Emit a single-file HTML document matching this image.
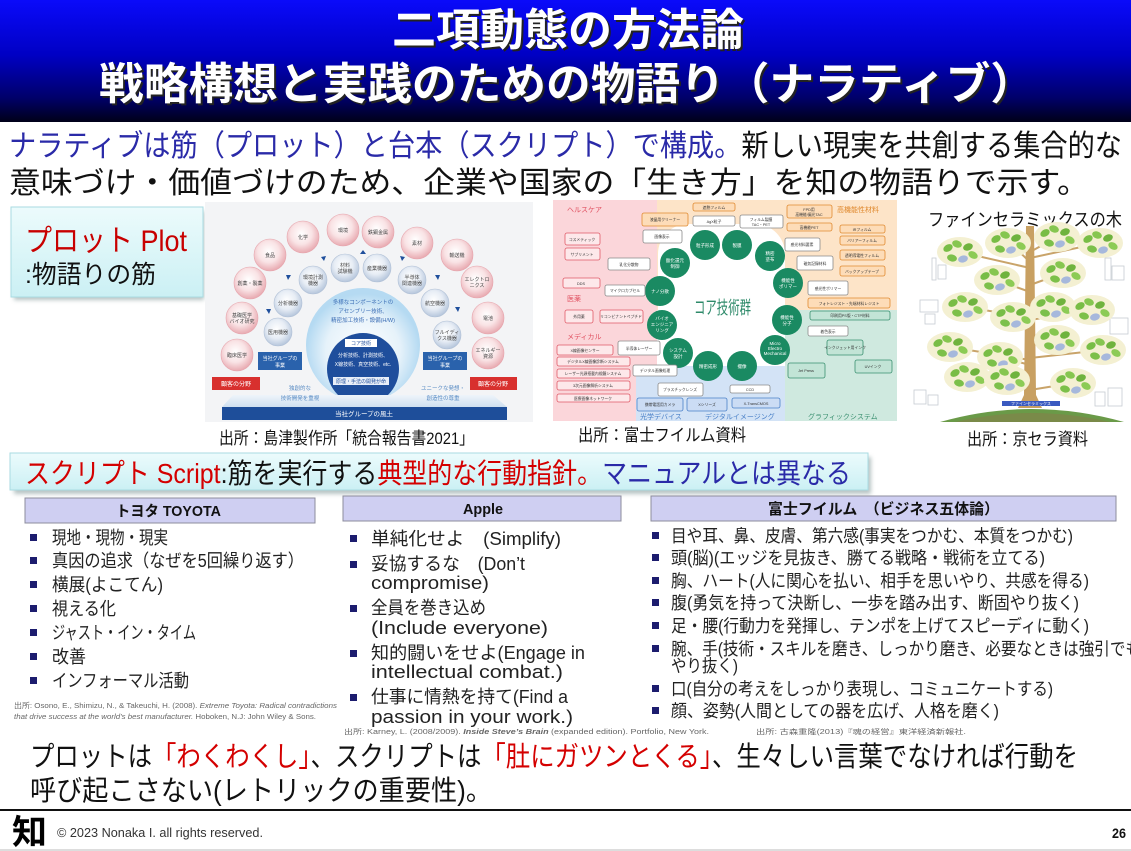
<!DOCTYPE html>
<html><head><meta charset="utf-8">
<style>
html,body{margin:0;padding:0;background:#fff;}
svg{display:block;}
text{font-family:"Liberation Sans","Noto Sans CJK JP",sans-serif;}
</style></head><body>
<svg width="1131" height="851" viewBox="0 0 1131 851" xmlns="http://www.w3.org/2000/svg">
<defs>
<linearGradient id="hdr" x1="0" y1="0" x2="0" y2="1">
<stop offset="0" stop-color="#0a0afa"/><stop offset="0.45" stop-color="#0000c4"/><stop offset="0.8" stop-color="#00006a"/><stop offset="1" stop-color="#000018"/>
</linearGradient>
<linearGradient id="cy" x1="0" y1="0" x2="0" y2="1"><stop offset="0" stop-color="#ecfbfc"/><stop offset="1" stop-color="#cbf0f4"/></linearGradient>
<filter id="sh" x="-10%" y="-30%" width="120%" height="160%"><feGaussianBlur stdDeviation="2"/></filter>
<radialGradient id="pk" cx="0.45" cy="0.4" r="0.6"><stop offset="0" stop-color="#ffffff"/><stop offset="0.55" stop-color="#f9e3e5"/><stop offset="1" stop-color="#e8aab1"/></radialGradient>
<radialGradient id="bl" cx="0.45" cy="0.4" r="0.6"><stop offset="0" stop-color="#ffffff"/><stop offset="0.55" stop-color="#e7edf5"/><stop offset="1" stop-color="#b6c6dc"/></radialGradient>
<radialGradient id="big" cx="0.5" cy="0.55" r="0.5"><stop offset="0" stop-color="#ffffff"/><stop offset="0.65" stop-color="#e6f2fa"/><stop offset="1" stop-color="#b5daf2"/></radialGradient>
<linearGradient id="plat" x1="0" y1="0" x2="0" y2="1"><stop offset="0" stop-color="#eef4fa"/><stop offset="1" stop-color="#cfe0f0"/></linearGradient>
<g id="lf">
<ellipse cx="0" cy="0" rx="23" ry="15" fill="#f4f0d2"/>
<ellipse cx="-12" cy="-4" rx="5" ry="3.5" fill="#78bd46" transform="rotate(-30 -12 -4)"/>
<ellipse cx="-3" cy="-8" rx="5" ry="3.5" fill="#86c650" transform="rotate(20 -3 -8)"/>
<ellipse cx="8" cy="-5" rx="5" ry="3.5" fill="#6fb33e" transform="rotate(-20 8 -5)"/>
<ellipse cx="13" cy="3" rx="5" ry="3.5" fill="#8ccb55" transform="rotate(30 13 3)"/>
<ellipse cx="-8" cy="6" rx="5" ry="3.5" fill="#7cc04a" transform="rotate(15 -8 6)"/>
<ellipse cx="3" cy="7" rx="5" ry="3.5" fill="#a6b8dc" transform="rotate(-15 3 7)"/>
</g>
</defs>

<!-- HEADER -->
<rect x="0" y="0" width="1131" height="122" fill="url(#hdr)"/>
<g font-weight="bold" font-size="44">
<text x="394" y="47" fill="#222" textLength="352" lengthAdjust="spacingAndGlyphs">二項動態の方法論</text>
<text x="392" y="45" fill="#fff" textLength="352" lengthAdjust="spacingAndGlyphs">二項動態の方法論</text>
<text x="101" y="101" fill="#222" textLength="936" lengthAdjust="spacingAndGlyphs">戦略構想と実践のための物語り（ナラティブ）</text>
<text x="99" y="99" fill="#fff" textLength="936" lengthAdjust="spacingAndGlyphs">戦略構想と実践のための物語り（ナラティブ）</text>
</g>

<!-- INTRO -->
<text x="9" y="156" font-size="30" textLength="1113" lengthAdjust="spacingAndGlyphs"><tspan fill="#2a2aa8">ナラティブは筋（プロット）と台本（スクリプト）で構成。</tspan><tspan fill="#111">新しい現実を共創する集合的な</tspan></text>
<text x="9" y="193" font-size="30" fill="#111" textLength="1080" lengthAdjust="spacingAndGlyphs">意味づけ・価値づけのため、企業や国家の「生き方」を知の物語りで示す。</text>

<!-- PLOT BOX -->
<rect x="14" y="211" width="190" height="89" fill="#9aa" opacity="0.7" filter="url(#sh)"/>
<rect x="11" y="207" width="192" height="90" fill="url(#cy)" stroke="#a9dbe2" stroke-width="1"/>
<text x="25" y="251" font-size="30" fill="#c80000" textLength="162" lengthAdjust="spacingAndGlyphs">プロット Plot</text>
<text x="25" y="283" font-size="25" fill="#111" textLength="131" lengthAdjust="spacingAndGlyphs">:物語りの筋</text>

<!-- SHIMADZU IMAGE -->
<rect x="205" y="202" width="328" height="220" fill="#f3f4f6"/>
<circle cx="363" cy="345" r="57" fill="url(#big)"/>
<g fill="url(#pk)" stroke="#e6a4ac" stroke-width="0.6">
<circle cx="237" cy="355" r="16"/><circle cx="242" cy="318" r="16"/><circle cx="250" cy="283" r="16"/><circle cx="270" cy="255" r="16"/><circle cx="303" cy="237" r="16"/><circle cx="343" cy="230" r="16"/><circle cx="378" cy="232" r="16"/><circle cx="417" cy="243" r="16"/><circle cx="457" cy="255" r="16"/><circle cx="477" cy="282" r="16"/><circle cx="488" cy="318" r="16"/><circle cx="488" cy="353" r="16"/>
</g>
<g fill="url(#bl)" stroke="#b0c0d6" stroke-width="0.6">
<circle cx="278" cy="332" r="14"/><circle cx="288" cy="303" r="14"/><circle cx="313" cy="280" r="14"/><circle cx="345" cy="268" r="14"/><circle cx="377" cy="268" r="14"/><circle cx="412" cy="280" r="14"/><circle cx="435" cy="303" r="14"/><circle cx="447" cy="335" r="14"/>
</g>
<g font-size="5" fill="#444" text-anchor="middle">
<text x="237" y="357">臨床医学</text><text x="242" y="317">基礎医学</text><text x="242" y="323">バイオ研究</text><text x="250" y="285">創薬・製薬</text><text x="270" y="257">食品</text><text x="303" y="239">化学</text><text x="343" y="232">環境</text><text x="378" y="234">鉄鋼金属</text><text x="417" y="245">素材</text><text x="457" y="257">輸送機</text><text x="477" y="281">エレクトロ</text><text x="477" y="287">ニクス</text><text x="488" y="320">電池</text><text x="488" y="352">エネルギー</text><text x="488" y="358">資源</text>
<text x="278" y="334">医用機器</text><text x="288" y="305">分析機器</text><text x="313" y="279">環境計測</text><text x="313" y="285">機器</text><text x="345" y="267">材料</text><text x="345" y="273">試験機</text><text x="377" y="270">産業機器</text><text x="412" y="279">半導体</text><text x="412" y="285">関連機器</text><text x="435" y="305">航空機器</text><text x="447" y="334">フルイディ</text><text x="447" y="340">クス機器</text>
</g>
<g fill="#1f4f9c">
<path d="M266 309 l5 0 l-2 5z"/><path d="M286 275 l5 0 l-3 5z"/><path d="M321 257 l5 -1 l-2 5z"/><path d="M360 254 l6 0 l-3 -4z"/><path d="M400 256 l5 1 l-3 4z"/><path d="M435 275 l5 0 l-2 5z"/><path d="M455 307 l5 0 l-2 5z"/>
</g>
<g font-size="5.5" fill="#3a6cb4" text-anchor="middle">
<text x="363" y="304">多様なコンポーネントの</text><text x="363" y="313">アセンブリー技術、</text><text x="363" y="322">精密加工技術・設備(H/W)</text>
</g>
<circle cx="363" cy="369" r="36" fill="#1f4e9c"/>
<rect x="345" y="339" width="32" height="8" fill="#fff"/>
<text x="361" y="345" font-size="5" fill="#1f4e9c" text-anchor="middle">コア技術</text>
<g font-size="5" fill="#fff" text-anchor="middle"><text x="363" y="357">分析技術、計測技術、</text><text x="363" y="366">X線技術、真空技術、etc.</text></g>
<rect x="333" y="377" width="56" height="8" fill="#e8eef8"/>
<text x="361" y="383" font-size="5" fill="#1f4e9c" text-anchor="middle">原理・手法の開発が命</text>
<rect x="258" y="352" width="44" height="18" fill="#2a62ac"/><rect x="423" y="352" width="44" height="18" fill="#2a62ac"/>
<g font-size="5" fill="#fff" text-anchor="middle"><text x="280" y="360">当社グループの</text><text x="280" y="367">事業</text><text x="445" y="360">当社グループの</text><text x="445" y="367">事業</text></g>
<rect x="212" y="377" width="48" height="13" fill="#d8302e"/><rect x="470" y="377" width="47" height="13" fill="#d8302e"/>
<g font-size="6" fill="#fff" text-anchor="middle"><text x="236" y="386">顧客の分野</text><text x="493" y="386">顧客の分野</text></g>
<path d="M233 395 L493 395 L507 407 L222 407 Z" fill="url(#plat)"/>
<g font-size="5.5" fill="#5a8cc4" text-anchor="middle"><text x="300" y="390">独創的な</text><text x="300" y="400">技術開発を重視</text><text x="443" y="390">ユニークな発想・</text><text x="443" y="400">創造性の尊重</text></g>
<rect x="222" y="407" width="285" height="13" fill="#1e4e9a"/>
<text x="364" y="416" font-size="6.5" fill="#fff" text-anchor="middle">当社グループの風土</text>
<text x="219" y="444" font-size="17" fill="#111" textLength="255" lengthAdjust="spacingAndGlyphs">出所：島津製作所「統合報告書2021」</text>

<!-- FUJIFILM IMAGE -->
<rect x="553" y="200" width="104" height="221" fill="#fbd6da"/>
<rect x="657" y="200" width="240" height="110" fill="#fde4c8"/>
<rect x="785" y="310" width="112" height="111" fill="#cfe9df"/>
<rect x="636" y="366" width="149" height="55" fill="#d3e3f6"/>
<rect x="658" y="224" width="127" height="142" rx="30" fill="#fff"/>
<g fill="#1a8a62">
<circle cx="705" cy="245" r="15"/><circle cx="737" cy="245" r="15"/><circle cx="770" cy="256" r="15"/><circle cx="788" cy="283" r="15"/><circle cx="787" cy="320" r="15"/><circle cx="775" cy="350" r="15"/><circle cx="742" cy="366" r="15"/><circle cx="708" cy="366" r="15"/><circle cx="678" cy="353" r="15"/><circle cx="662" cy="325" r="15"/><circle cx="660" cy="291" r="15"/><circle cx="675" cy="263" r="15"/>
</g>
<g font-size="4.5" fill="#fff" text-anchor="middle">
<text x="705" y="247">粒子形成</text><text x="737" y="247">製膜</text><text x="770" y="255">精密</text><text x="770" y="261">塗布</text><text x="788" y="282">機能性</text><text x="788" y="288">ポリマー</text><text x="787" y="319">機能性</text><text x="787" y="325">分子</text><text x="775" y="345">Micro</text><text x="775" y="350">Electro</text><text x="775" y="355">Mechanical</text><text x="742" y="368">撮像</text><text x="708" y="368">精密成形</text><text x="678" y="352">システム</text><text x="678" y="358">設計</text><text x="662" y="320">バイオ</text><text x="662" y="326">エンジニア</text><text x="662" y="332">リング</text><text x="660" y="293">ナノ分散</text><text x="675" y="262">酸化還元</text><text x="675" y="268">制御</text>
</g>
<text x="694" y="314" font-size="18" fill="#2e8a6a" textLength="57" lengthAdjust="spacingAndGlyphs">コア技術群</text>
<g stroke="#e05a68" stroke-width="0.8" fill="#fde8ea">
<rect x="565" y="233" width="35" height="12" rx="2"/><rect x="565" y="248" width="35" height="12" rx="2"/><rect x="563" y="278" width="37" height="10" rx="2"/><rect x="565" y="310" width="28" height="13" rx="2"/><rect x="600" y="310" width="43" height="13" rx="2"/><rect x="557" y="345" width="56" height="10" rx="2"/><rect x="557" y="357" width="73" height="9" rx="2"/><rect x="557" y="369" width="73" height="9" rx="2"/><rect x="557" y="381" width="73" height="9" rx="2"/><rect x="557" y="394" width="73" height="8" rx="2"/>
</g>
<g stroke="#8a8a8a" stroke-width="0.8" fill="#fff">
<rect x="608" y="258" width="42" height="12" rx="2"/><rect x="605" y="285" width="40" height="11" rx="2"/><rect x="618" y="341" width="42" height="14" rx="2"/><rect x="633" y="365" width="44" height="11" rx="2"/><rect x="643" y="230" width="39" height="13" rx="2"/><rect x="693" y="216" width="42" height="10" rx="2"/><rect x="740" y="215" width="43" height="13" rx="2"/><rect x="785" y="238" width="35" height="13" rx="2"/><rect x="797" y="256" width="36" height="14" rx="2"/><rect x="808" y="281" width="40" height="14" rx="2"/><rect x="808" y="326" width="40" height="10" rx="2"/><rect x="658" y="383" width="45" height="13" rx="2"/><rect x="730" y="385" width="40" height="8" rx="2"/>
</g>
<g stroke="#e08a30" stroke-width="0.8" fill="#fddcb8">
<rect x="642" y="213" width="46" height="13" rx="2"/><rect x="693" y="203" width="42" height="8" rx="2"/><rect x="787" y="205" width="45" height="13" rx="2"/><rect x="787" y="223" width="45" height="8" rx="2"/><rect x="840" y="225" width="45" height="8" rx="2"/><rect x="840" y="236" width="45" height="9" rx="2"/><rect x="840" y="250" width="45" height="10" rx="2"/><rect x="840" y="266" width="45" height="10" rx="2"/><rect x="808" y="298" width="82" height="10" rx="2"/>
</g>
<g stroke="#3a9070" stroke-width="0.8" fill="#c2e4d6">
<rect x="810" y="311" width="80" height="9" rx="2"/><rect x="827" y="340" width="36" height="15" rx="2"/><rect x="788" y="363" width="37" height="15" rx="2"/><rect x="855" y="360" width="37" height="13" rx="2"/>
</g>
<g stroke="#4a80c8" stroke-width="0.8" fill="#cbdcf4">
<rect x="637" y="398" width="46" height="13" rx="2"/><rect x="687" y="398" width="40" height="13" rx="2"/><rect x="732" y="398" width="48" height="10" rx="2"/>
</g>
<g font-size="3.8" fill="#333" text-anchor="middle">
<text x="582" y="241">コスメティック</text><text x="582" y="256">サプリメント</text><text x="581" y="285">DDS</text><text x="579" y="318">外用薬</text><text x="621" y="318">リコンビナントペプチド</text><text x="585" y="352">X線画像センサー</text><text x="593" y="363">デジタルX線画像診断システム</text><text x="593" y="375">レーザー光源搭載内視鏡システム</text><text x="593" y="387">3次元画像解析システム</text><text x="593" y="400">医療画像ネットワーク</text>
<text x="629" y="266">乳化分散物</text><text x="625" y="292">マイクロカプセル</text><text x="639" y="350">半導体レーザー</text><text x="655" y="372">デジタル画像処理</text><text x="662" y="238">画像表示</text><text x="714" y="223">AgX粒子</text><text x="761" y="221">フィルム製膜</text><text x="761" y="226">TAC・PET</text><text x="802" y="246">感光材料要素</text><text x="815" y="265">磁気記録材料</text><text x="828" y="290">感光性ポリマー</text><text x="828" y="333">着色表示</text><text x="680" y="391">プラスチックレンズ</text><text x="750" y="391">CCD</text>
<text x="665" y="221">液晶用クリーナー</text><text x="714" y="209">遮熱フィルム</text><text x="809" y="211">FPD用</text><text x="809" y="216">高機能/偏光TAC</text><text x="809" y="229">高機能PET</text><text x="862" y="231">IRフィルム</text><text x="862" y="242">バリアーフィルム</text><text x="862" y="257">透明導電性フィルム</text><text x="862" y="273">バックアップテープ</text><text x="849" y="305">フォトレジスト・先端材料レジスト</text>
<text x="850" y="317">印刷用PS版・CTP材料</text><text x="845" y="349">インクジェット用インク</text><text x="806" y="372">Jet Press</text><text x="873" y="368">UVインク</text>
<text x="660" y="406">携帯電話用カメラ</text><text x="707" y="406">Xシリーズ</text><text x="756" y="405">X-TransCMOS</text>
</g>
<g font-size="7">
<text x="567" y="212" fill="#e05060">ヘルスケア</text><text x="567" y="301" fill="#e05060">医薬</text><text x="567" y="339" fill="#e05060">メディカル</text><text x="837" y="212" fill="#e08a30">高機能性材料</text><text x="640" y="419" fill="#4a80c8">光学デバイス</text><text x="705" y="419" fill="#4a80c8">デジタルイメージング</text><text x="808" y="419" fill="#3a9070">グラフィックシステム</text>
</g>
<text x="578" y="441" font-size="17" fill="#111" textLength="168" lengthAdjust="spacingAndGlyphs">出所：富士フイルム資料</text>

<!-- KYOCERA -->
<text x="928" y="226" font-size="18" fill="#111" textLength="194" lengthAdjust="spacingAndGlyphs">ファインセラミックスの木</text>
<g stroke="#c6ccd2" stroke-width="0.8" fill="none">
<rect x="932" y="258" width="4" height="22"/><rect x="938" y="265" width="8" height="14"/><rect x="920" y="300" width="18" height="12"/><rect x="925" y="314" width="10" height="10"/><rect x="914" y="390" width="12" height="14"/><rect x="928" y="395" width="10" height="10"/>
<rect x="1105" y="258" width="6" height="22"/><rect x="1112" y="266" width="12" height="14"/><rect x="1110" y="318" width="18" height="16"/><rect x="1095" y="392" width="10" height="14"/><rect x="1108" y="388" width="14" height="18"/>
</g>
<g stroke="#c9a46a" stroke-width="2" fill="none">
<path d="M1030 268 L960 252"/><path d="M1030 262 L1010 243"/><path d="M1030 292 L997 280"/><path d="M1030 318 L967 307"/><path d="M1030 325 L1013 317"/><path d="M1030 360 L950 347"/><path d="M1030 365 L1000 357"/><path d="M1030 388 L967 377"/><path d="M1030 385 L1007 380"/>
<path d="M1030 252 L1057 237"/><path d="M1030 258 L1100 243"/><path d="M1030 285 L1063 273"/><path d="M1030 315 L1053 307"/><path d="M1030 320 L1090 310"/><path d="M1030 345 L1057 340"/><path d="M1030 358 L1103 350"/><path d="M1030 390 L1073 383"/>
</g>
<path d="M1026 226 L1034 226 L1036 395 L1042 408 L1018 408 L1024 395 Z" fill="#c8a062"/>
<use href="#lf" x="960" y="252"/><use href="#lf" x="1008" y="243"/><use href="#lf" x="1057" y="237"/><use href="#lf" x="1100" y="243"/><use href="#lf" x="997" y="280"/><use href="#lf" x="1063" y="273"/><use href="#lf" x="965" y="307"/><use href="#lf" x="1013" y="317"/><use href="#lf" x="1053" y="307"/><use href="#lf" x="1092" y="310"/><use href="#lf" x="950" y="347"/><use href="#lf" x="1000" y="357"/><use href="#lf" x="1057" y="340"/><use href="#lf" x="1103" y="350"/><use href="#lf" x="967" y="377"/><use href="#lf" x="1007" y="380"/><use href="#lf" x="1073" y="383"/>
<path d="M940 422 Q1031 396 1124 422 Z" fill="#6a9a48"/>
<path d="M955 422 Q1031 404 1110 422 Z" fill="#8a7a4a" opacity="0.5"/>
<rect x="1002" y="401" width="58" height="5" fill="#3a5ac0"/>
<text x="1031" y="405" font-size="4" fill="#fff" text-anchor="middle">ファインセラミックス</text>
<text x="967" y="445" font-size="17" fill="#111" textLength="121" lengthAdjust="spacingAndGlyphs">出所：京セラ資料</text>

<!-- SCRIPT BAR -->
<rect x="14" y="457" width="857" height="37" fill="#9aa" opacity="0.7" filter="url(#sh)"/>
<rect x="10" y="453" width="858" height="37" fill="url(#cy)" stroke="#a9dbe2" stroke-width="1"/>
<text x="25" y="483" font-size="28" textLength="826" lengthAdjust="spacingAndGlyphs"><tspan fill="#d40000">スクリプト Script</tspan><tspan fill="#111">:筋を実行する</tspan><tspan fill="#d40000">典型的な行動指針。</tspan><tspan fill="#2a2aa8">マニュアルとは異なる</tspan></text>

<!-- COLUMN HEADERS -->
<g fill="#cfcff2" stroke="#8c8c9c" stroke-width="1">
<rect x="25" y="498" width="290" height="25"/><rect x="343" y="496" width="278" height="25"/><rect x="651" y="496" width="465" height="25"/>
</g>
<g font-size="15" font-weight="bold" fill="#111">
<text x="116" y="516" textLength="105" lengthAdjust="spacingAndGlyphs">トヨタ TOYOTA</text>
<text x="463" y="514" textLength="40" lengthAdjust="spacingAndGlyphs">Apple</text>
<text x="768" y="514" textLength="231" lengthAdjust="spacingAndGlyphs">富士フイルム　（ビジネス五体論）</text>
</g>

<!-- BULLETS -->
<g fill="#1c1c6e">
<rect x="30" y="534" width="7" height="7"/><rect x="30" y="557" width="7" height="7"/><rect x="30" y="581" width="7" height="7"/><rect x="30" y="605" width="7" height="7"/><rect x="30" y="629" width="7" height="7"/><rect x="30" y="653" width="7" height="7"/><rect x="30" y="677" width="7" height="7"/>
<rect x="350" y="535" width="7" height="7"/><rect x="350" y="561" width="7" height="7"/><rect x="350" y="605" width="7" height="7"/><rect x="350" y="650" width="7" height="7"/><rect x="350" y="694" width="7" height="7"/>
<rect x="652" y="532" width="7" height="7"/><rect x="652" y="554" width="7" height="7"/><rect x="652" y="577" width="7" height="7"/><rect x="652" y="599" width="7" height="7"/><rect x="652" y="622" width="7" height="7"/><rect x="652" y="645" width="7" height="7"/><rect x="652" y="685" width="7" height="7"/><rect x="652" y="707" width="7" height="7"/>
</g>

<!-- TOYOTA LIST -->
<g font-size="18" fill="#222">
<text x="52" y="544" textLength="116" lengthAdjust="spacingAndGlyphs">現地・現物・現実</text>
<text x="52" y="567" textLength="252" lengthAdjust="spacingAndGlyphs">真因の追求（なぜを5回繰り返す）</text>
<text x="52" y="591" textLength="111" lengthAdjust="spacingAndGlyphs">横展(よこてん)</text>
<text x="52" y="615" textLength="64" lengthAdjust="spacingAndGlyphs">視える化</text>
<text x="52" y="639" textLength="144" lengthAdjust="spacingAndGlyphs">ジャスト・イン・タイム</text>
<text x="52" y="663" textLength="34" lengthAdjust="spacingAndGlyphs">改善</text>
<text x="52" y="687" textLength="137" lengthAdjust="spacingAndGlyphs">インフォーマル活動</text>
</g>
<g font-size="7.5" fill="#666">
<text x="14" y="708" textLength="323" lengthAdjust="spacingAndGlyphs">出所: Osono, E., Shimizu, N., &amp; Takeuchi, H. (2008). <tspan font-style="italic">Extreme Toyota: Radical contradictions</tspan></text>
<text x="14" y="719" textLength="302" lengthAdjust="spacingAndGlyphs"><tspan font-style="italic">that drive success at the world's best manufacturer.</tspan> Hoboken, N.J: John Wiley &amp; Sons.</text>
</g>

<!-- APPLE LIST -->
<g font-size="18" fill="#222">
<text x="371" y="545" textLength="190" lengthAdjust="spacingAndGlyphs">単純化せよ　(Simplify)</text>
<text x="371" y="570" textLength="154" lengthAdjust="spacingAndGlyphs">妥協するな　(Don’t</text>
<text x="371" y="589" textLength="118" lengthAdjust="spacingAndGlyphs">compromise)</text>
<text x="371" y="614" textLength="115" lengthAdjust="spacingAndGlyphs">全員を巻き込め</text>
<text x="371" y="634" textLength="177" lengthAdjust="spacingAndGlyphs">(Include everyone)</text>
<text x="371" y="659" textLength="214" lengthAdjust="spacingAndGlyphs">知的闘いをせよ(Engage in</text>
<text x="371" y="678" textLength="192" lengthAdjust="spacingAndGlyphs">intellectual combat.)</text>
<text x="371" y="703" textLength="197" lengthAdjust="spacingAndGlyphs">仕事に情熱を持て(Find a</text>
<text x="371" y="723" textLength="202" lengthAdjust="spacingAndGlyphs">passion in your work.)</text>
</g>
<text x="344" y="734" font-size="7" fill="#666" textLength="365" lengthAdjust="spacingAndGlyphs">出所: Karney, L. (2008/2009). <tspan font-style="italic" font-weight="bold">Inside Steve’s Brain</tspan> (expanded edition). Portfolio, New York.</text>

<!-- FUJI LIST -->
<g font-size="17.5" fill="#222">
<text x="671" y="542" textLength="402" lengthAdjust="spacingAndGlyphs">目や耳、鼻、皮膚、第六感(事実をつかむ、本質をつかむ)</text>
<text x="671" y="564" textLength="374" lengthAdjust="spacingAndGlyphs">頭(脳)(エッジを見抜き、勝てる戦略・戦術を立てる)</text>
<text x="671" y="587" textLength="418" lengthAdjust="spacingAndGlyphs">胸、ハート(人に関心を払い、相手を思いやり、共感を得る)</text>
<text x="671" y="609" textLength="408" lengthAdjust="spacingAndGlyphs">腹(勇気を持って決断し、一歩を踏み出す、断固やり抜く)</text>
<text x="671" y="632" textLength="418" lengthAdjust="spacingAndGlyphs">足・腰(行動力を発揮し、テンポを上げてスピーディに動く)</text>
<text x="671" y="655" textLength="470" lengthAdjust="spacingAndGlyphs">腕、手(技術・スキルを磨き、しっかり磨き、必要なときは強引でも</text>
<text x="671" y="672" textLength="67" lengthAdjust="spacingAndGlyphs">やり抜く)</text>
<text x="671" y="695" textLength="382" lengthAdjust="spacingAndGlyphs">口(自分の考えをしっかり表現し、コミュニケートする)</text>
<text x="671" y="717" textLength="328" lengthAdjust="spacingAndGlyphs">顔、姿勢(人間としての器を広げ、人格を磨く)</text>
</g>
<text x="756" y="734" font-size="7" fill="#666" textLength="210" lengthAdjust="spacingAndGlyphs">出所: 古森重隆(2013)『魂の経営』東洋経済新報社.</text>

<!-- BOTTOM MESSAGE -->
<text x="30" y="766" font-size="28" fill="#111" textLength="1048" lengthAdjust="spacingAndGlyphs">プロットは<tspan fill="#d40000">「わくわくし」</tspan>、スクリプトは<tspan fill="#d40000">「肚にガツンとくる」</tspan>、生々しい言葉でなければ行動を</text>
<text x="30" y="800" font-size="28" fill="#111" textLength="462" lengthAdjust="spacingAndGlyphs">呼び起こさない(レトリックの重要性)。</text>

<!-- FOOTER -->
<rect x="0" y="809" width="1131" height="2" fill="#111"/>
<text x="12" y="844" font-size="34" font-weight="bold" fill="#000" textLength="35" lengthAdjust="spacingAndGlyphs">知</text>
<text x="57" y="837" font-size="12.5" fill="#333" textLength="206" lengthAdjust="spacingAndGlyphs">© 2023 Nonaka I. all rights reserved.</text>
<text x="1112" y="838" font-size="14" font-weight="bold" fill="#111" textLength="14" lengthAdjust="spacingAndGlyphs">26</text>
<rect x="0" y="849" width="1131" height="2" fill="#ddd"/>
</svg>
</body></html>
